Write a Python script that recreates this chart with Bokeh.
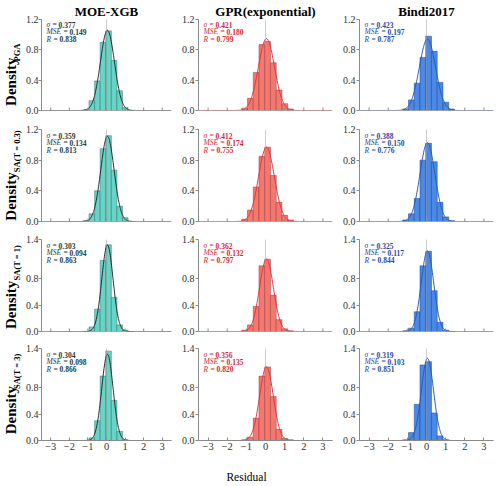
import numpy as np
from math import pi
from bokeh.plotting import figure
from bokeh.layouts import column, row
from bokeh.models import Label, Span, Range1d, FixedTicker, PrintfTickFormatter
from bokeh.core.properties import value
from bokeh.embed import file_html
from bokeh.resources import INLINE

# ---------------- data ----------------
models = ["MOE-XGB", "GPR(exponential)", "Bindi2017"]
targets = ["PGA", "SA(T = 0.3)", "SA(T = 1)", "SA(T = 3)"]
x_title = "Residual"

bin_centers = [-1.09, -0.79, -0.49, -0.19, 0.11, 0.41, 0.71, 1.01, 1.31]
bin_width = 0.3

moe_pga  = [0.01, 0.13, 0.39, 0.90, 1.05, 0.66, 0.26, 0.04, 0.00]
moe_sa03 = [0.01, 0.10, 0.40, 0.95, 1.12, 0.67, 0.20, 0.05, 0.00]
moe_sa1  = [0.00, 0.07, 0.34, 1.08, 1.32, 0.52, 0.10, 0.02, 0.00]
moe_sa3  = [0.00, 0.04, 0.30, 0.98, 1.36, 0.61, 0.14, 0.01, 0.00]

gpr_pga  = [0.03, 0.16, 0.50, 0.87, 0.91, 0.63, 0.27, 0.09, 0.02]
gpr_sa03 = [0.03, 0.15, 0.45, 0.85, 0.97, 0.60, 0.25, 0.08, 0.02]
gpr_sa1  = [0.02, 0.10, 0.38, 1.00, 1.10, 0.55, 0.18, 0.04, 0.01]
gpr_sa3  = [0.01, 0.05, 0.34, 0.98, 1.12, 0.67, 0.17, 0.03, 0.01]

bindi_pga  = [0.02, 0.14, 0.36, 0.70, 0.98, 0.78, 0.37, 0.11, 0.02]
bindi_sa03 = [0.02, 0.10, 0.30, 0.80, 1.02, 0.78, 0.25, 0.06, 0.01]
bindi_sa1  = [0.01, 0.05, 0.30, 1.00, 1.22, 0.62, 0.14, 0.02, 0.00]
bindi_sa3  = [0.01, 0.12, 0.55, 1.15, 1.20, 0.42, 0.07, 0.01, 0.00]

# fitted normal: mean and sigma per panel (rows = targets, cols = models)
mu = [[0.05, 0.05, 0.05],
      [0.05, 0.05, 0.05],
      [0.05, 0.05, 0.05],
      [0.05, 0.05, 0.05]]
sigma = [[0.377, 0.421, 0.423],
         [0.359, 0.412, 0.388],
         [0.303, 0.362, 0.325],
         [0.304, 0.356, 0.319]]
sigma_txt = [["0.377", "0.421", "0.423"],
             ["0.359", "0.412", "0.388"],
             ["0.303", "0.362", "0.325"],
             ["0.304", "0.356", "0.319"]]
mse = [["0.149", "0.180", "0.197"],
       ["0.134", "0.174", "0.150"],
       ["0.094", "0.132", "0.117"],
       ["0.098", "0.135", "0.103"]]
rval = [["0.838", "0.799", "0.787"],
        ["0.813", "0.755", "0.776"],
        ["0.863", "0.797", "0.844"],
        ["0.866", "0.820", "0.851"]]

heights = [[moe_pga, gpr_pga, bindi_pga],
           [moe_sa03, gpr_sa03, bindi_sa03],
           [moe_sa1, gpr_sa1, bindi_sa1],
           [moe_sa3, gpr_sa3, bindi_sa3]]

y_max = [1.2, 1.2, 1.4, 1.4]
y_ticks = [[0, 0.4, 0.8, 1.2], [0, 0.4, 0.8, 1.2], [0, 0.4, 0.8, 1.4], [0, 0.4, 0.8, 1.4]]
x_ticks = [-3, -2, -1, 0, 1, 2, 3]

# ---------------- style ----------------
SERIF = "Liberation Serif"
fill_cols = ["#66d4c6", "#f7776e", "#4b89e6"]
edge_cols = ["#2c6b66", "#8e3b38", "#1f3f80"]
curve_cols = ["#2b2b2b", "#e2323e", "#2d58b5"]
text_cols = ["#1f4040", "#d3283a", "#2a4aa8"]
axis_col = "#8a8a8a"

FW, FH = 134, 92
STRIP_W = 22
lefts = [15, 24, 24]
rights = [3, 3, 7]
tops = [18, 10, 10, 9]
bottoms = [9, 8, 8, 17]
BOTTOM_STRIP = 486 - sum(t + FH + b for t, b in zip(tops, bottoms))

xs = np.linspace(-3.5, 3.5, 400)


def panel(r, c):
    p = figure(width=lefts[c] + FW + rights[c], height=tops[r] + FH + bottoms[r],
               x_range=Range1d(-3.5, 3.5), y_range=Range1d(0, y_max[r]),
               output_backend="svg", toolbar_location=None,
               min_border_left=lefts[c], min_border_right=rights[c],
               min_border_top=tops[r], min_border_bottom=bottoms[r])
    p.outline_line_color = None
    p.xgrid.visible = False
    p.ygrid.visible = False
    p.background_fill_color = "white"
    p.border_fill_color = "white"

    cen = np.array(bin_centers)
    h = heights[r][c]
    p.quad(left=cen - bin_width / 2, right=cen + bin_width / 2, top=h, bottom=0,
           fill_color=fill_cols[c], fill_alpha=1.0, line_color=edge_cols[c],
           line_width=0.6, line_alpha=0.8)

    s = sigma[r][c]
    m = mu[r][c]
    pdf = np.exp(-0.5 * ((xs - m) / s) ** 2) / (s * np.sqrt(2 * np.pi))
    p.line(xs, pdf, line_color=curve_cols[c], line_width=1.0)

    p.add_layout(Span(location=0, dimension="height", line_color="#9a9a9a",
                      line_dash="1 1", line_width=1))

    xa = p.xaxis[0]
    if r == 3:
        xa.ticker = FixedTicker(ticks=x_ticks)
        xa.minor_tick_line_color = None
        xa.major_tick_in = 3
        xa.major_tick_out = 0
        xa.axis_line_color = axis_col
        xa.major_tick_line_color = axis_col
        xa.major_label_overrides = {t: (("\u2212" + str(-t)) if t < 0 else str(t)) for t in x_ticks}
        xa.major_label_text_font = SERIF
        xa.major_label_text_font_size = "10.5px"
        xa.major_label_text_color = "#333333"
        xa.major_label_standoff = 2
    else:
        # unlabeled bottom axis: spine plus inward tick marks (clipped to the frame)
        xa.visible = False
        p.add_layout(Span(location=0, dimension="width", line_color=axis_col, line_width=1))
        p.scatter(x=x_ticks, y=[0] * len(x_ticks), marker="dash", angle=pi / 2, size=6,
                  line_color=axis_col, line_width=1)

    ya = p.yaxis[0]
    ya.ticker = FixedTicker(ticks=y_ticks[r])
    ya.formatter = PrintfTickFormatter(format="%.1f")
    ya.minor_tick_line_color = None
    ya.major_tick_in = 0
    ya.major_tick_out = 3
    ya.axis_line_color = axis_col
    ya.major_tick_line_color = axis_col
    ya.major_label_text_font = SERIF
    ya.major_label_text_font_size = "10px"
    ya.major_label_text_color = "#333333"
    ya.major_label_standoff = 0 if c == 0 else 1

    prefixes = ["\u03c3 = ", "MSE = ", "R = "]
    values = [sigma_txt[r][c], mse[r][c], rval[r][c]]
    offs = [12, 23, 13]
    for i in range(3):
        yy = FH - 6 - 7.3 * i
        p.add_layout(Label(x=5, y=yy, x_units="screen", y_units="screen", text=prefixes[i],
                           text_font=SERIF, text_font_style="italic", text_font_size="7.5px",
                           text_color=text_cols[c], text_baseline="middle", text_align="left"))
        p.add_layout(Label(x=5 + offs[i], y=yy, x_units="screen", y_units="screen", text=values[i],
                           text_font=SERIF, text_font_style="bold", text_font_size="7.5px",
                           text_color=text_cols[c], text_baseline="middle", text_align="left"))

    if r == 0:
        p.title.text = models[c]
        p.title.align = "center"
        p.title.text_font = SERIF
        p.title.text_font_style = "bold"
        p.title.text_font_size = "13px"
        p.title.text_color = "black"
        p.title.standoff = 2
        p.title.offset = 0
    return p


def blank(width, height):
    q = figure(width=width, height=height, x_range=Range1d(0, width), y_range=Range1d(0, height),
               output_backend="svg", toolbar_location=None,
               min_border_left=0, min_border_right=0, min_border_top=0, min_border_bottom=0)
    q.axis.visible = False
    q.grid.visible = False
    q.outline_line_color = None
    q.background_fill_color = "white"
    q.border_fill_color = "white"
    return q


# y-label positions inside the left strips (start of "Density", bottom-up, px)
dens_w = 58
dens_start = [6, 1, 3, 8]

rows = []
for r in range(4):
    H = tops[r] + FH + bottoms[r]
    strip = blank(STRIP_W, H)
    strip.text(x=[10.5], y=[dens_start[r]], text=["Density"], angle=pi / 2,
               text_font=value(SERIF), text_font_style="bold", text_font_size="15px",
               text_color="black", text_align="left", text_baseline="middle")
    strip.text(x=[16], y=[dens_start[r] + dens_w], text=[targets[r]], angle=pi / 2,
               text_font=value(SERIF), text_font_style="bold", text_font_size="8.5px",
               text_color="black", text_align="left", text_baseline="middle")
    rows.append(row(strip, *[panel(r, c) for c in range(3)], spacing=0))

bottom = blank(500, BOTTOM_STRIP)
bottom.text(x=[246], y=[BOTTOM_STRIP - 19], text=[x_title],
            text_font=value(SERIF), text_font_size="11.5px", text_color="black",
            text_align="center", text_baseline="middle")

layout = column(*rows, bottom, spacing=0)

open("out.html", "w").write(file_html(layout, INLINE))
